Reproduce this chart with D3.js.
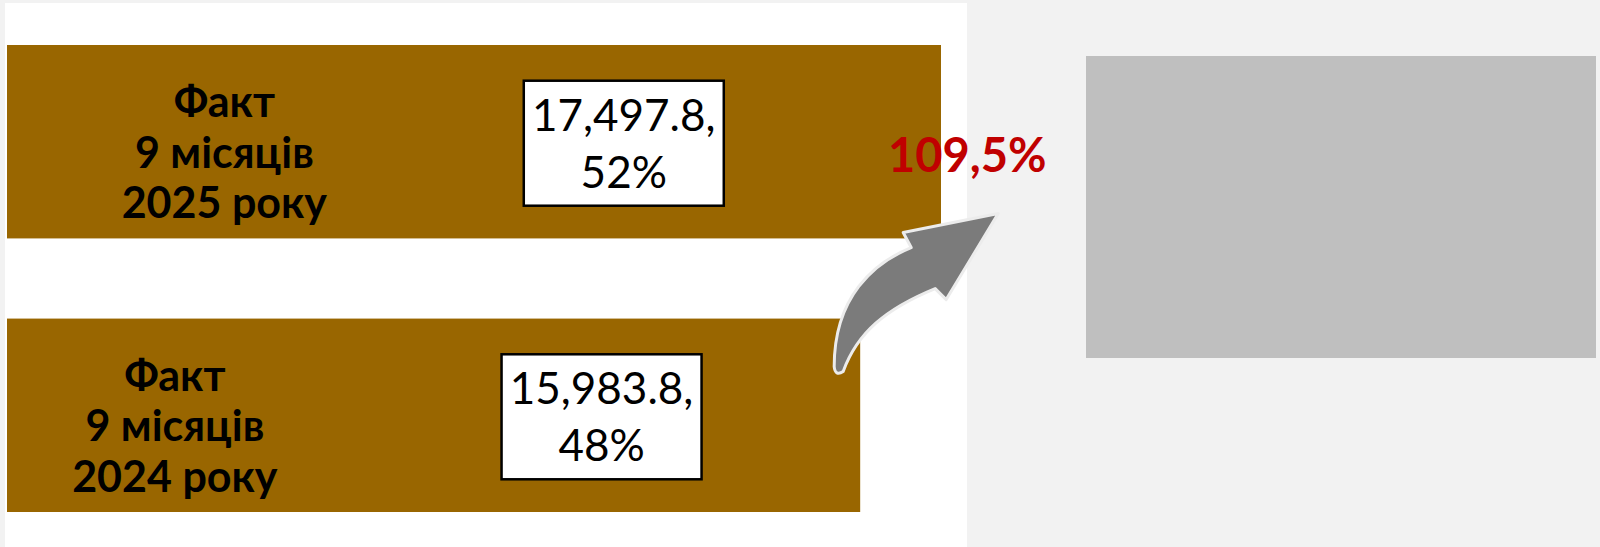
<!DOCTYPE html>
<html>
<head>
<meta charset="utf-8">
<script src="https://cdn.jsdelivr.net/npm/d3@7"></script>
<style>
  html, body { margin: 0; padding: 0; background: #f2f2f2; }
  svg { display: block; }
</style>
</head>
<body>
<svg id="chart" width="1600" height="547"></svg>
<script>
// data
const categories = ["2025", "2024"]
const catLines = [["Факт", "9 місяців", "2025 року"], ["Факт", "9 місяців", "2024 року"]]
const values = [17497.8, 15983.8]
const shares = [52, 48]
const growthText = "109,5%"

const W = 1600, H = 547
const svg = d3.select("#chart")

// white panel behind bars
svg.append("rect")
    .attr("x", 5).attr("y", 3)
    .attr("width", 962).attr("height", H - 3)
    .attr("fill", "#ffffff")

// grey placeholder block on the right
svg.append("rect")
    .attr("x", 1086).attr("y", 56)
    .attr("width", 510).attr("height", 302)
    .attr("fill", "#bfbfbf")

// scales
const xScale = d3.scaleLinear()
    .domain([0, d3.max(values)])
    .range([7, 941])

const yScale = d3.scaleBand()
    .domain(categories)
    .range([45, 512])
    .paddingInner(0.293)
    .paddingOuter(0)

const rows = categories.map((c, i) => ({
    cat: c, lines: catLines[i], value: values[i], share: shares[i]
}))

const fmt = d3.format(",.1f")

const g = svg.selectAll("g.row")
    .data(rows)
    .enter()
    .append("g")
    .attr("class", "row")
    .attr("transform", d => "translate(0," + yScale(d.cat) + ")")

const bw = yScale.bandwidth()

g.append("rect")
    .attr("x", xScale(0))
    .attr("y", 0)
    .attr("width", d => xScale(d.value) - xScale(0))
    .attr("height", bw)
    .attr("fill", "#996600")

// category text inside bar
const catX = d => 0.6125 * xScale(d.value) - 352
g.append("text")
    .attr("text-anchor", "middle")
    .attr("font-family", "Lato, sans-serif")
    .attr("font-weight", "bold")
    .attr("font-size", 43)
    .attr("fill", "#000")
    .selectAll("tspan")
    .data(d => d.lines.map(l => ({ l: l, x: catX(d) })))
    .enter()
    .append("tspan")
    .attr("x", t => t.x)
    .attr("y", (t, i) => bw / 2 - 24.5 + i * 50.5)
    .text(t => t.l)

// value label box
const boxX = d => 0.275 * xScale(d.value) + 365
const boxW = 200, boxH = 125
g.append("rect")
    .attr("x", d => boxX(d) - boxW / 2)
    .attr("y", bw / 2 - 61)
    .attr("width", boxW)
    .attr("height", boxH)
    .attr("fill", "#ffffff")
    .attr("stroke", "#000")
    .attr("stroke-width", 2.5)

g.append("text")
    .attr("x", d => boxX(d))
    .attr("y", bw / 2 - 11)
    .attr("text-anchor", "middle")
    .attr("font-family", "Lato, sans-serif")
    .attr("font-size", 44)
    .attr("fill", "#000")
    .text(d => fmt(d.value) + ",")

g.append("text")
    .attr("x", d => boxX(d))
    .attr("y", bw / 2 + 46)
    .attr("text-anchor", "middle")
    .attr("font-family", "Lato, sans-serif")
    .attr("font-size", 44)
    .attr("fill", "#000")
    .text(d => d.share + "%")

// curved arrow, anchored at the end of the lower bar
const ox = xScale(values[1]), oy = yScale(categories[1])
const arrowPath = d3.path()
arrowPath.moveTo(ox + 138, oy - 105)
arrowPath.lineTo(ox + 43, oy - 86)
arrowPath.lineTo(ox + 51, oy - 71)
arrowPath.bezierCurveTo(ox + 14, oy - 56, ox - 26, oy - 22, ox - 26, oy + 48)
arrowPath.quadraticCurveTo(ox - 25, oy + 58, ox - 17, oy + 53)
arrowPath.bezierCurveTo(ox - 3, oy + 14, ox + 26, oy - 10, ox + 75, oy - 30)
arrowPath.lineTo(ox + 86, oy - 19)
arrowPath.closePath()

svg.append("path")
    .attr("d", arrowPath.toString())
    .attr("fill", "#7b7b7b")
    .attr("stroke", "#ececec")
    .attr("stroke-width", 3)
    .attr("stroke-linejoin", "round")

// growth label
svg.append("text")
    .attr("x", ox + 107)
    .attr("y", yScale(categories[0]) + 127)
    .attr("text-anchor", "middle")
    .attr("font-family", "Lato, sans-serif")
    .attr("font-weight", "bold")
    .attr("font-size", 47)
    .attr("fill", "#c00000")
    .text(growthText)
</script>
</body>
</html>
